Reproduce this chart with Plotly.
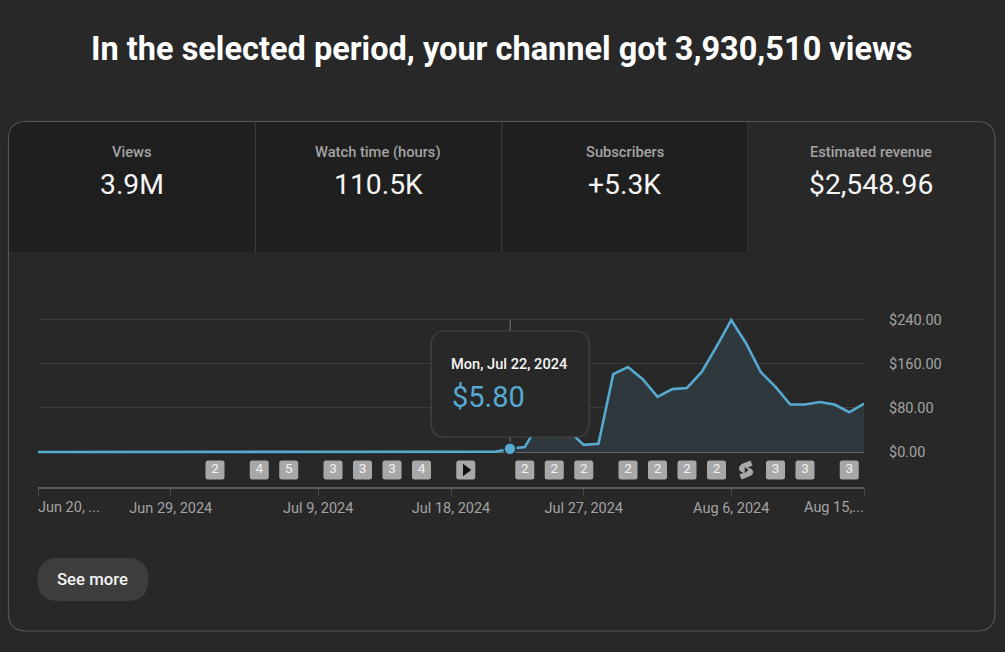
import plotly.graph_objects as go

# ---------- data ----------
dates = ["2024-06-%02d" % d for d in range(20, 31)] + ["2024-07-%02d" % d for d in range(1, 32)] + ["2024-08-%02d" % d for d in range(1, 16)]
revenue = [0.0] * 31 + [0.5, 5.8, 9.0, 54.0, 56.0, 38.0, 13.0, 15.0, 141.0, 154.0, 132.0, 100.0, 114.0, 116.0,
                         145.0, 191.0, 239.0, 197.0, 145.0, 118.0, 86.0, 86.0, 90.5, 86.0, 72.0, 87.5]
selected_date = "2024-07-22"
selected_value = 5.80
y_ticks = [0, 80, 160, 240]
y_labels = ["$0.00", "$80.00", "$160.00", "$240.00"]
x_ticks = ["2024-06-20", "2024-06-29", "2024-07-09", "2024-07-18", "2024-07-27", "2024-08-06", "2024-08-15"]
x_labels = ["", "Jun 29, 2024", "Jul 9, 2024", "Jul 18, 2024", "Jul 27, 2024", "Aug 6, 2024", ""]
badge_dates = ["2024-07-02", "2024-07-05", "2024-07-07", "2024-07-10", "2024-07-12", "2024-07-14", "2024-07-16",
               "2024-07-23", "2024-07-25", "2024-07-27", "2024-07-30", "2024-08-01", "2024-08-03", "2024-08-05",
               "2024-08-09", "2024-08-11", "2024-08-14"]
badge_counts = ["2", "4", "5", "3", "3", "3", "4", "2", "2", "2", "2", "2", "2", "2", "3", "3", "3"]
video_date = "2024-07-19"
shorts_date = "2024-08-07"
metric_names = ["Views", "Watch time (hours)", "Subscribers", "Estimated revenue"]
metric_values = ["3.9M", "110.5K", "+5.3K", "$2,548.96"]
title_text = "In the selected period, your channel got 3,930,510 views"

# ---------- layout helpers ----------
W, H = 1005, 652
L, R, T, B = 37.5, 864.0, 300.0, 487.0
def px(x): return (x - L) / (R - L)
def py(y): return (B - y) / (B - T)

BG = "#282828"; HEAD = "#1f1f1f"; BORDER = "#555555"; DIV = "#3a3a3a"
BLUE = "#56a9d0"; MUTED = "#a3a3a3"; BADGE = "#a8a8a8"
FONT = "Roboto"
BADGE_Y = -32.6

def rrect(x0, y0, x1, y1, r):
    a, b, c, d = px(x0), py(y0), px(x1), py(y1)
    rx, ry = r / (R - L), r / (B - T)
    return (f"M{a+rx},{b} L{c-rx},{b} Q{c},{b} {c},{b-ry} L{c},{d+ry} Q{c},{d} {c-rx},{d} "
            f"L{a+rx},{d} Q{a},{d} {a},{d+ry} L{a},{b-ry} Q{a},{b} {a+rx},{b} Z")

shapes = []
def paper_path(path, fill, line=None, lw=1, layer="below"):
    shapes.append(dict(type="path", xref="paper", yref="paper", path=path, fillcolor=fill,
                       line=dict(color=line or "rgba(0,0,0,0)", width=lw if line else 0), layer=layer))

def pline(x0, y0, x1, y1, color, w=1, layer="below"):
    shapes.append(dict(type="line", xref="paper", yref="paper", x0=px(x0), x1=px(x1), y0=py(y0), y1=py(y1),
                       line=dict(color=color, width=w), layer=layer))

# card
paper_path(rrect(8, 121.5, 995, 631, 18), BG, BORDER, 1.2)
# dark header (rounded only at top-left)
a, b, c, d = px(8.7), py(122.2), px(748), py(252)
rx, ry = 17 / (R - L), 17 / (B - T)
paper_path(f"M{a+rx},{b} L{c},{b} L{c},{d} L{a},{d} L{a},{b-ry} Q{a},{b} {a+rx},{b} Z", HEAD)
for xd in (255, 501.5, 748):
    pline(xd, 122, xd, 252, DIV, 1.2)
# See more button
paper_path(rrect(37, 558, 148, 601, 21.5), "#3d3d3d")
# crosshair
pline(510, 319.5, 510, 452, "#6a6a6a", 1.2)

# badges: pixel-sized rounded squares anchored to the date axis
def badge_path(s=9.5, r=2.5):
    return (f"M{-s+r},{s} L{s-r},{s} Q{s},{s} {s},{s-r} L{s},{-s+r} Q{s},{-s} {s-r},{-s} "
            f"L{-s+r},{-s} Q{-s},{-s} {-s},{-s+r} L{-s},{s-r} Q{-s},{s} {-s+r},{s} Z")
for bd in badge_dates + [video_date]:
    shapes.append(dict(type="path", xref="x", yref="y", xsizemode="pixel", ysizemode="pixel",
                       xanchor=bd, yanchor=BADGE_Y, path=badge_path(), fillcolor=BADGE,
                       line=dict(width=0), layer="below"))
# shorts glyph: thick S-shaped stroke
shapes.append(dict(type="path", xref="x", yref="y", xsizemode="pixel", ysizemode="pixel",
                   xanchor=shorts_date, yanchor=BADGE_Y,
                   path="M5.5,7 L-3,3.5 Q-6,1.5 -2.5,0 L2.5,-0.5 Q6,-2 3,-3.5 L-5.5,-7",
                   fillcolor="rgba(0,0,0,0)", line=dict(color=BADGE, width=5.6), layer="below"))
# tooltip
paper_path(rrect(431, 331, 589, 437, 14), BG, "#444444", 1.2, layer="above")

# ---------- traces ----------
fig = go.Figure()
fig.add_trace(go.Scatter(x=dates, y=revenue, mode="lines", line=dict(color=BLUE, width=2.6),
                         fill="tozeroy", fillcolor="#2f383d", hoverinfo="skip"))
fig.add_trace(go.Scatter(x=[selected_date], y=[selected_value], mode="markers",
                         marker=dict(size=12, color=BLUE, line=dict(color=BG, width=1.5)), hoverinfo="skip"))
fig.add_trace(go.Scatter(x=badge_dates, y=[BADGE_Y] * len(badge_dates), mode="text", text=badge_counts,
                         textfont=dict(family=FONT, size=13.5, color="#f2f2f2"), hoverinfo="skip"))
fig.add_trace(go.Scatter(x=[video_date], y=[BADGE_Y], mode="markers",
                         marker=dict(symbol="triangle-right", size=11, color="#111111"), hoverinfo="skip"))
fig.add_trace(go.Scatter(x=[shorts_date], y=[BADGE_Y], mode="markers",
                         marker=dict(symbol="triangle-right", size=5, color="#282828"), hoverinfo="skip"))

# ---------- text ----------
ann = []
def text(x, y, s, size, color, anchor="center", weight=None):
    f = dict(family=FONT, size=size, color=color)
    if weight: f["weight"] = weight
    shift = {"left": -2, "right": 2, "center": 0}[anchor]
    ann.append(dict(xref="paper", yref="paper", x=px(x), y=py(y), xshift=shift, text=s, showarrow=False,
                    xanchor=anchor, yanchor="middle", font=f, align="center"))

text(501.5, 48.7, title_text, 32.5, "#ffffff", weight=700)
for cx, n, v in zip((131.5, 378, 624.5, 871.5), metric_names, metric_values):
    text(cx, 152.3, n, 14.7, MUTED, weight=500)
    text(cx, 184, v, 28.3, "#f5f5f5")
text(37.5, 507.8, "Jun 20, ...", 14.5, MUTED, anchor="left")
text(864, 507.8, "Aug 15,...", 14.5, MUTED, anchor="right")
text(92.5, 579.5, "See more", 16.7, "#f5f5f5", weight=500)
text(451, 363.5, "Mon, Jul 22, 2024", 14.6, "#f5f5f5", anchor="left", weight=500)
text(452, 396.5, f"${selected_value:.2f}", 29, BLUE, anchor="left")

# ---------- axes ----------
fig.update_layout(
    width=W, height=H, autosize=False, showlegend=False, paper_bgcolor=BG, plot_bgcolor="rgba(0,0,0,0)",
    margin=dict(l=L, r=W - R, t=T, b=H - B, pad=0), shapes=shapes, annotations=ann,
    xaxis=dict(type="date", range=["2024-06-20", "2024-08-15"], tickmode="array", tickvals=x_ticks, ticktext=x_labels,
               showgrid=False, zeroline=False, showline=True, linecolor="#5c5c5c", linewidth=2, ticks="outside",
               ticklen=7, tickwidth=1, tickcolor="#4a4a4a", tickfont=dict(family=FONT, size=14.5, color=MUTED),
               fixedrange=True),
    yaxis=dict(range=[-63.4, 275.4], side="right", tickmode="array", tickvals=y_ticks, ticktext=y_labels,
               showgrid=True, gridcolor="#3c3c3c", gridwidth=1, zeroline=True, zerolinecolor="#6a6a6a", zerolinewidth=1.5,
               showline=False, ticks="", ticklabelstandoff=24, tickfont=dict(family=FONT, size=14.5, color=MUTED),
               fixedrange=True),
)
fig.write_html("out.html", config=dict(displayModeBar=False),
               post_script="document.documentElement.style.background='#282828';document.body.style.margin='0';document.documentElement.style.overflow='hidden';")
